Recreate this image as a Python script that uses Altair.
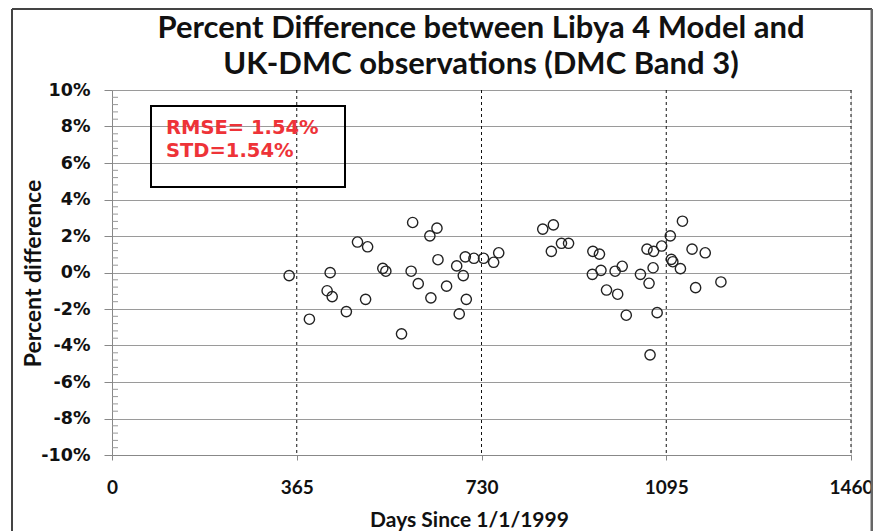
import altair as alt
import pandas as pd

# ---- data ----
days = [350, 390, 431, 425, 435, 463, 485, 505, 501, 535, 541, 572, 594, 591, 605,
        628, 642, 630, 644, 661, 681, 686, 694, 700, 698, 715, 734, 754, 764,
        851, 872, 868, 888, 902, 950, 963, 949, 966, 977, 999, 994, 1008, 1016,
        1044, 1057, 1070, 1061, 1069, 1077, 1063, 1086, 1103, 1127, 1105, 1108,
        1123, 1146, 1172, 1153, 1203]
pct_diff = [-0.17, -2.56, -0.01, -1.00, -1.32, -2.14, 1.67, 1.41, -1.47, 0.23, 0.07, -3.36, 2.74, 0.07, -0.61,
            2.01, 2.43, -1.39, 0.70, -0.75, 0.36, -2.27, -0.17, -1.47, 0.86, 0.78, 0.78, 0.56, 1.08,
            2.38, 2.61, 1.16, 1.60, 1.60, 1.16, 1.01, -0.10, 0.12, -0.96, -1.19, 0.07, 0.34, -2.34,
            -0.10, 1.28, 1.16, -0.59, 0.26, -2.20, -4.51, 1.45, 2.01, 2.81, 0.72, 0.59,
            0.21, 1.28, 1.08, -0.83, -0.52]

x_ticks = [0, 365, 730, 1095, 1460]
year_lines = [365, 730, 1095, 1460]
y_ticks = [-10, -8, -6, -4, -2, 0, 2, 4, 6, 8, 10]
y_minor = [v / 10 for v in range(-100, 101, 4) if v % 20 != 0]
title_lines = ["Percent Difference between Libya 4 Model and", "UK-DMC observations (DMC Band 3)"]
stats_lines = ["RMSE= 1.54%", "STD=1.54%"]

W, H = 739, 365

pts = pd.DataFrame({"day": days, "pct": pct_diff})
one = pd.DataFrame({"a": [0]})

xscale = alt.Scale(domain=[0, 1460], nice=False, zero=False)
yscale = alt.Scale(domain=[-10, 10], nice=False)

x_axis = alt.Axis(
    values=x_ticks, format="d", grid=False, title="Days Since 1/1/1999",
    labelFont="Lato", labelFontSize=19, labelFontWeight="bold", labelColor="#111111",
    labelPadding=18, tickSize=5, tickColor="#888888", domainColor="#888888",
    titleFont="Lato", titleFontSize=21, titleFontWeight="bold", titleColor="#111111",
    titleX=357, titleY=65, titleBaseline="middle", titleAnchor="middle",
    labelFlush=False, labelOverlap=False)
y_axis = alt.Axis(
    values=y_ticks, labelExpr="datum.value + '%'", grid=True, gridColor="#9a9a9a",
    gridWidth=1, title="Percent  difference", labelOverlap=False,
    labelFont="DejaVu Sans", labelFontSize=17.5, labelFontWeight="bold", labelColor="#111111",
    labelPadding=14, tickSize=8, tickColor="#888888", domainColor="#888888",
    titleFont="Lato", titleFontSize=23, titleFontWeight="bold", titleColor="#111111",
    titleX=-79, titleY=183, titleAngle=270, titleBaseline="middle", titleAnchor="middle")

base_points = alt.Chart(pts).mark_point(
    shape="circle", filled=False, stroke="#222222", strokeWidth=1.4, size=105, opacity=1
).encode(
    x=alt.X("day:Q", scale=xscale, axis=x_axis),
    y=alt.Y("pct:Q", scale=yscale, axis=y_axis),
)

minor = alt.Chart(pd.DataFrame({"v": y_minor})).mark_rule(color="#999999", strokeWidth=1).encode(
    y=alt.Y("v:Q", scale=yscale, axis=y_axis), x=alt.value(0), x2=alt.value(6)
)

vlines = alt.Chart(pd.DataFrame({"d": year_lines})).mark_rule(
    color="#111111", strokeWidth=1, strokeDash=[3, 3]
).encode(x=alt.X("d:Q", scale=xscale, axis=x_axis))

box = alt.Chart(one).mark_rect(fill="transparent", stroke="#000000", strokeWidth=2).encode(
    x=alt.value(39), x2=alt.value(233), y=alt.value(16), y2=alt.value(97)
)

def text_layer(txt, x, y, **kw):
    return alt.Chart(one).mark_text(text=txt, **kw).encode(x=alt.value(x), y=alt.value(y))

stats1 = text_layer(stats_lines[0], 54, 38, font="DejaVu Sans", fontSize=19.5, fontWeight="bold",
                    color="#ee3338", align="left", baseline="middle")
stats2 = text_layer(stats_lines[1], 54, 61, font="DejaVu Sans", fontSize=19.5, fontWeight="bold",
                    color="#ee3338", align="left", baseline="middle")
title1 = text_layer(title_lines[0], 369, -52, font="Lato", fontSize=31, fontWeight="bold",
                    color="#111111", align="center", baseline="alphabetic")
title2 = text_layer(title_lines[1], 369, -16, font="Lato", fontSize=31, fontWeight="bold",
                    color="#111111", align="center", baseline="alphabetic")

frame_left = alt.Chart(one).mark_rule(color="#444444", strokeWidth=2).encode(
    x=alt.value(-100), y=alt.value(-81), y2=alt.value(441))
frame_top = alt.Chart(one).mark_rule(color="#444444", strokeWidth=2).encode(
    x=alt.value(-100), x2=alt.value(760), y=alt.value(-81))
frame_right = alt.Chart(one).mark_rule(color="#666666", strokeWidth=3).encode(
    x=alt.value(760), y=alt.value(-81), y2=alt.value(441))

chart = alt.layer(
    base_points, minor, vlines, box, stats1, stats2, title1, title2,
    frame_left, frame_top, frame_right
).properties(
    width=W, height=H,
    autosize=alt.AutoSizeParams(type="none"),
    padding={"left": 104, "top": 82, "right": 22, "bottom": 76},
).configure_view(stroke="transparent").configure(background="white")

chart.save("out.html", embed_options={"renderer": "svg", "actions": False})
